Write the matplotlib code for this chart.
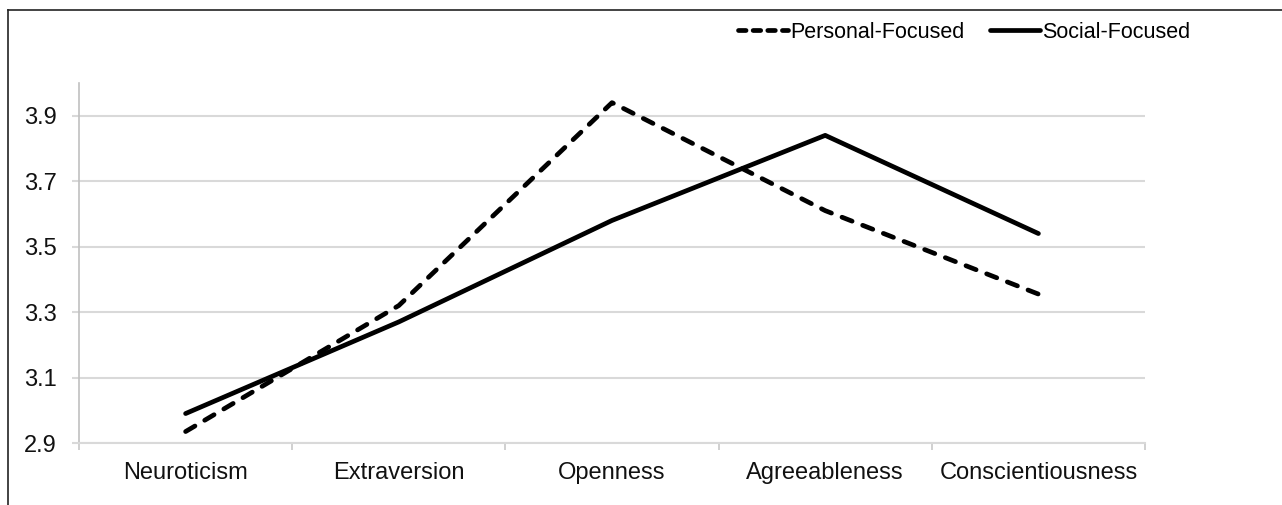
import matplotlib
matplotlib.use("Agg")
import matplotlib.pyplot as plt
from matplotlib.lines import Line2D

categories = ["Neuroticism", "Extraversion", "Openness", "Agreeableness", "Conscientiousness"]
personal = [2.935, 3.32, 3.94, 3.61, 3.355]
social = [2.99, 3.27, 3.58, 3.84, 3.54]
yticks = [2.9, 3.1, 3.3, 3.5, 3.7, 3.9]
series_names = ["Personal-Focused", "Social-Focused"]

plt.rcParams['font.family'] = ['Liberation Sans', 'DejaVu Sans']

W, H = 1282, 505
fig = plt.figure(figsize=(W / 100, H / 100), dpi=100)
ax = fig.add_axes([79 / W, 1 - 443 / H, (1145 - 79) / W, (443 - 83) / H])

LW = 3.4
x = list(range(len(categories)))
ax.plot(x, personal, color='black', lw=LW, linestyle=(0, (2.3, 2.4)),
        dash_capstyle='round', solid_capstyle='round', label=series_names[0])
ax.plot(x, social, color='black', lw=LW, solid_capstyle='round', label=series_names[1])

ax.set_xlim(-0.5, len(categories) - 0.5)
ax.set_ylim(2.9, 4.0)
ax.set_yticks(yticks)
ax.set_yticklabels([f"{v:.1f}" for v in yticks])
ax.set_xticks(x)
ax.set_xticklabels(categories)
ax.set_xticks([i - 0.5 for i in range(len(categories) + 1)], minor=True)

ax.yaxis.grid(True, color='#d9d9d9', lw=1.5)
ax.set_axisbelow(True)
for s in ['top', 'right']:
    ax.spines[s].set_visible(False)
ax.spines['left'].set_color('#c0c0c0')
ax.spines['left'].set_linewidth(1.2)
ax.spines['bottom'].set_color('#d9d9d9')
ax.spines['bottom'].set_linewidth(1.5)

ax.tick_params(axis='y', length=5, width=1.5, color='#d9d9d9', pad=11, labelsize=17, labelcolor='#111111')
ax.tick_params(axis='x', which='major', length=0, pad=14, labelsize=17, labelcolor='#111111')
ax.tick_params(axis='x', which='minor', length=5, width=1.2, color='#c8c8c8', direction='out')

handles = [Line2D([], [], color='black', lw=LW, linestyle=(0, (1.6, 1.5)), dash_capstyle='round'),
           Line2D([], [], color='black', lw=LW, solid_capstyle='round')]
leg = fig.legend(handles, series_names, loc='center right', bbox_to_anchor=(1190 / W, 1 - 32 / H),
                 ncol=2, frameon=False, fontsize=15.5, handlelength=2.3, handletextpad=0.1,
                 columnspacing=1.2, borderaxespad=0, borderpad=0)

# figure frame lines (left and top)
fig.add_artist(Line2D([8 / W, 8 / W], [0, 1 - 10 / H], transform=fig.transFigure, color='#222222', lw=1.2))
fig.add_artist(Line2D([8 / W, 1], [1 - 10 / H, 1 - 10 / H], transform=fig.transFigure, color='#222222', lw=1.2))

fig.savefig("out.png", dpi=100)
